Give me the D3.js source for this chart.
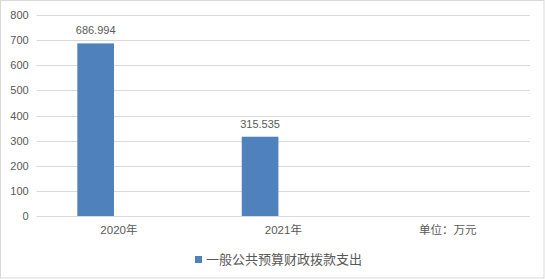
<!DOCTYPE html>
<html>
<head>
<meta charset="utf-8">
<script src="https://cdn.jsdelivr.net/npm/d3@7/dist/d3.min.js"></script>
<style>
  html, body { margin: 0; padding: 0; background: #fff; }
  svg { display: block; }
  text { font-family: "Liberation Sans", "Noto Sans CJK SC", sans-serif; fill: #595959; }
</style>
</head>
<body>
<script>
// Chart data
const categories = ["2020年", "2021年", "单位：万元"];
const seriesName = "一般公共预算财政拨款支出";
const seriesValues = [686.994, 315.535, null];
const yTicks = [0, 100, 200, 300, 400, 500, 600, 700, 800];

const W = 545, H = 279;
const margin = { top: 15, right: 15, bottom: 63, left: 36.7 };

const svg = d3.select("body").append("svg")
  .attr("width", W).attr("height", H);

// Outer frame
svg.append("rect")
  .attr("x", 0.5).attr("y", 0.5)
  .attr("width", W - 1.5).attr("height", H - 1.5)
  .attr("fill", "#fff").attr("stroke", "#d9d9d9");

const x = d3.scaleBand()
  .domain(categories)
  .range([margin.left, W - margin.right])
  .padding(0);

const y = d3.scaleLinear()
  .domain([0, 800])
  .range([H - margin.bottom, margin.top]);

// Horizontal gridlines
svg.append("g")
  .selectAll("line")
  .data(yTicks)
  .join("line")
  .attr("x1", margin.left).attr("x2", W - margin.right)
  .attr("y1", d => Math.round(y(d)) + 0.5)
  .attr("y2", d => Math.round(y(d)) + 0.5)
  .attr("stroke", "#d9d9d9").attr("stroke-width", 1);

// Y axis labels
const yAxis = d3.axisLeft(y).tickValues(yTicks).tickSize(0).tickPadding(8);
const gy = svg.append("g")
  .attr("transform", `translate(${margin.left},0)`)
  .call(yAxis);
gy.select(".domain").remove();
gy.selectAll("text").style("font-size", "11px").attr("fill", "#595959");

// X axis labels
const xAxis = d3.axisBottom(x).tickSize(0).tickPadding(10);
const gx = svg.append("g")
  .attr("transform", `translate(0,${H - margin.bottom})`)
  .call(xAxis);
gx.select(".domain").remove();
gx.selectAll("text").style("font-size", "11.5px").attr("fill", "#595959");

// Bars sit left of each category centre
const barColor = "#4f81bd";
const bw = x.bandwidth();
const barData = categories.map((c, i) => ({ c, v: seriesValues[i] })).filter(d => d.v != null);

svg.append("g")
  .selectAll("rect")
  .data(barData)
  .join("rect")
  .attr("x", d => x(d.c) + bw * 0.247)
  .attr("width", bw * 0.223)
  .attr("y", d => y(d.v))
  .attr("height", d => y(0) - y(d.v))
  .attr("fill", barColor);

// Value labels
svg.append("g")
  .selectAll("text")
  .data(barData)
  .join("text")
  .attr("x", d => x(d.c) + bw * 0.247 + bw * 0.223 / 2)
  .attr("y", d => y(d.v) - 9)
  .attr("text-anchor", "middle")
  .style("font-size", "11px")
  .text(d => d.v.toFixed(3));

// Legend
const lg = svg.append("g").attr("transform", "translate(195,256)");
lg.append("rect").attr("width", 7).attr("height", 7).attr("fill", barColor);
lg.append("text")
  .attr("x", 11).attr("y", 3.5)
  .attr("dy", "0.35em")
  .style("font-size", "13px")
  .text(seriesName);
</script>
</body>
</html>
